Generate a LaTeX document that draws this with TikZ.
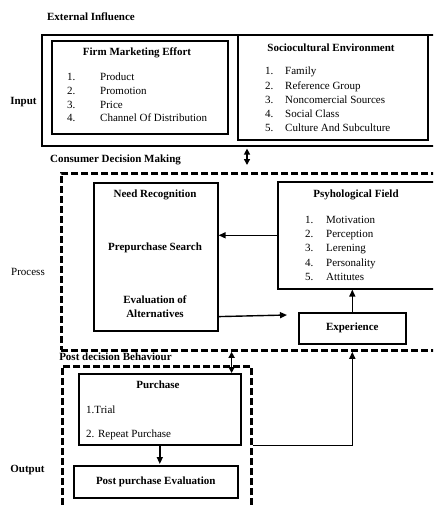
\documentclass[tikz,border=0pt]{standalone}
\usepackage{fontspec}
\setmainfont{Liberation Serif}
\usetikzlibrary{arrows.meta}
\begin{document}
\begin{tikzpicture}[x=1pt,y=-1pt,
 box/.style={draw, line width=1.6pt, inner sep=0pt, anchor=north west},
 dbox/.style={draw, line width=2.8pt, dash pattern=on 7pt off 3pt, inner sep=0pt, anchor=north west},
 lbl/.style={inner sep=0pt, anchor=base, font=\fontsize{11}{13}\selectfont\bfseries},
 txt/.style={inner sep=0pt, anchor=base west, font=\fontsize{11}{13}\selectfont, align=left},
 arr/.style={line width=1.4pt, -{Triangle[length=7pt,width=6pt]}},
 dbl/.style={line width=1.4pt, {Triangle[length=6pt,width=6pt]}-{Triangle[length=6pt,width=6pt]}}]
\useasboundingbox (0,0) rectangle (433,505);
\clip (0,0) rectangle (433,505);

% boxes
\node[box, minimum width=399pt, minimum height=111pt] (input) at (41,34) {};
\node[box, minimum width=176pt, minimum height=93pt] (firm) at (51,40) {};
\node[box, minimum width=190pt, minimum height=105pt] (socio) at (237,34) {};
\node[dbox, minimum width=385pt, minimum height=177pt] (process) at (60,172) {};
\node[box, minimum width=124pt, minimum height=148pt] (need) at (93,182) {};
\node[box, minimum width=160pt, minimum height=107pt] (psych) at (277,181) {};
\node[box, minimum width=107pt, minimum height=31pt, font=\fontsize{11}{13}\selectfont\bfseries] (exp) at (298,312) {Experience};
\node[dbox, minimum width=189pt, minimum height=150pt] (post) at (61,365) {};
\node[box, minimum width=162pt, minimum height=71pt] (purchase) at (78,373) {};
\node[box, minimum width=164pt, minimum height=32pt, font=\fontsize{11}{13}\selectfont\bfseries] (ppe) at (73,465) {Post purchase Evaluation};

% labels
\node[lbl] (ext) at (91,21) {External Influence};
\node[lbl] (inp) at (23.5,105) {Input};
\node[lbl] (firmt) at (137,56) {Firm Marketing Effort};
\node[lbl] (sociot) at (331,52) {Sociocultural Environment};
\node[txt, font=\fontsize{11}{13.6}\selectfont] (firml) at (67,81)
 {\begin{tabular}[t]{@{}p{33pt}@{}l@{}}1.&Product\\2.&Promotion\\3.&Price\\4.&Channel Of Distribution\end{tabular}};
\node[txt, font=\fontsize{11}{14.2}\selectfont] (socil) at (265,75)
 {\begin{tabular}[t]{@{}p{20pt}@{}l@{}}1.&Family\\2.&Reference Group\\3.&Noncomercial Sources\\4.&Social Class\\5.&Culture And Subculture\end{tabular}};
\node[lbl] (cdm) at (115.5,162) {Consumer Decision Making};
\node[lbl] (needt) at (155,197) {Need Recognition};
\node[lbl] (pre) at (155,250) {Prepurchase Search};
\node[lbl] (eval1) at (155,303) {Evaluation of};
\node[lbl] (eval2) at (155,317) {Alternatives};
\node[lbl] (psycht) at (356,197) {Psyhological Field};
\node[txt, font=\fontsize{11}{14.4}\selectfont] (psychl) at (305,223)
 {\begin{tabular}[t]{@{}p{21pt}@{}l@{}}1.&Motivation\\2.&Perception\\3.&Lerening\\4.&Personality\\5.&Attitutes\end{tabular}};
\node[lbl, font=\fontsize{11}{13}\selectfont] (proc) at (28,275) {Process};
\node[lbl] (pdb) at (115.5,360) {Post decision Behaviour};
\node[lbl] (purt) at (158,388) {Purchase};
\node[txt] (trial) at (86,413) {1.Trial};
\node[txt] (repeat) at (86,437) {2. Repeat Purchase};
\node[lbl] (outp) at (27.5,472) {Output};

% connectors
\coordinate (a1) at (287,315);
\draw[arr] (psych.west) -- (need.east |- psych.west);
\draw[arr] ([yshift=15pt]need.south east) -- (a1);
\draw[arr] (exp.north) -- (exp.north |- psych.south);
\draw[dbl, shorten <=2pt, shorten >=7pt] ([xshift=10pt]socio.south west |- input.south) -- ([xshift=10pt]socio.south west |- process.north);
\draw[dbl] ([xshift=-10pt]purchase.north east |- process.south) -- ([xshift=-10pt]purchase.north east);
\draw[arr] (post.east |- purchase.south) -| (exp.south |- process.south);
\draw[arr, shorten >=1pt] (purchase.south) -- (purchase.south |- ppe.north);
\end{tikzpicture}
\end{document}
